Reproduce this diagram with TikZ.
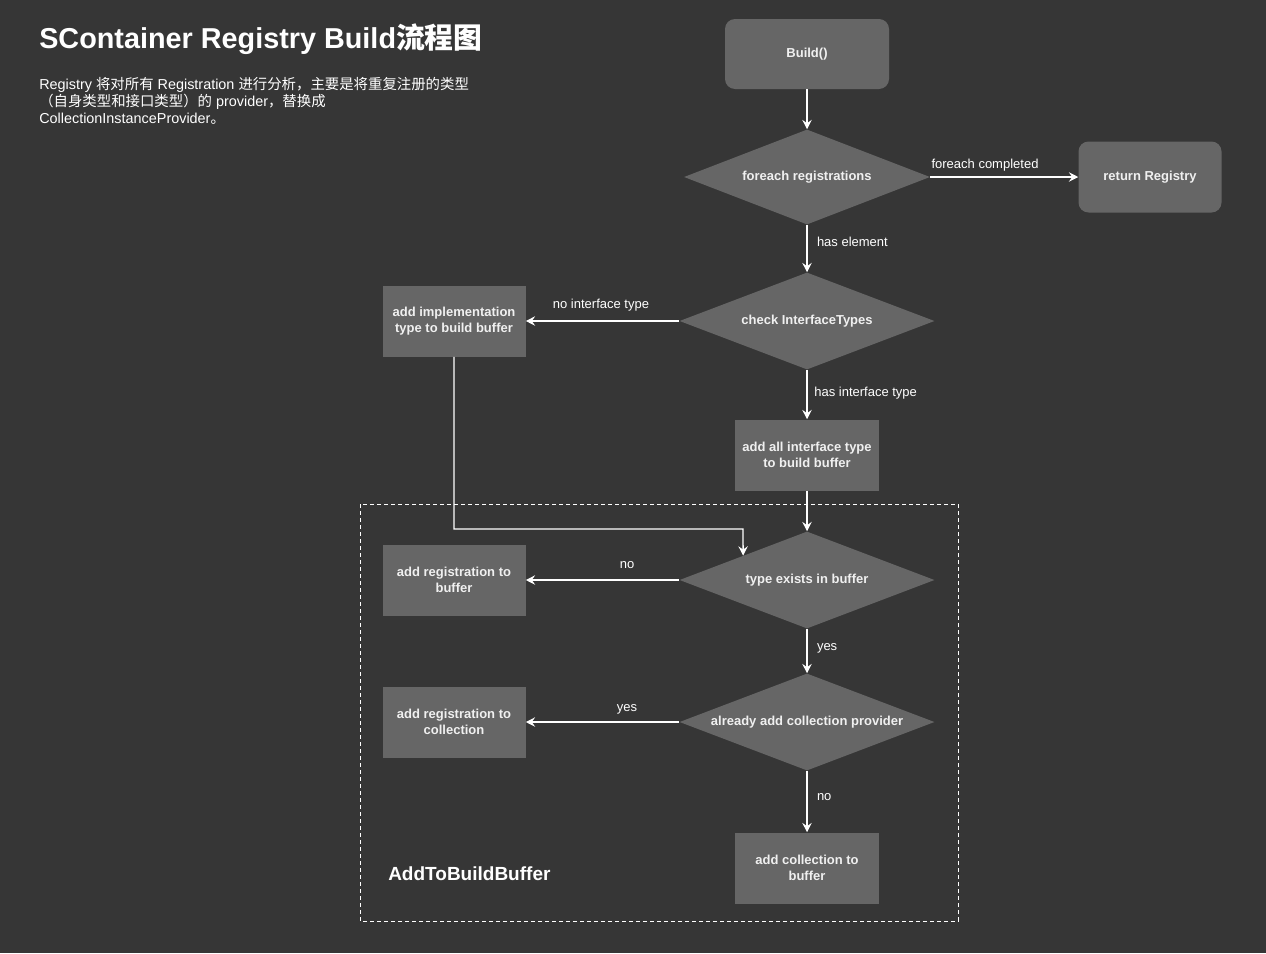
\documentclass[tikz,border=0pt]{standalone}
\usepackage{fontspec}
\setmainfont{Liberation Sans}
\newfontfamily\cjk{Noto Sans CJK SC}
\usetikzlibrary{arrows.meta,shapes.geometric}
\definecolor{bgdark}{HTML}{363636}
\definecolor{nodegray}{HTML}{666666}
\definecolor{inkwhite}{HTML}{F0F0F0}
\tikzset{
  termbox/.style={fill=nodegray, rounded corners=7.5pt, align=center, minimum width=123pt, minimum height=52.5pt, text=inkwhite, font=\fontsize{9.75}{12}\selectfont\bfseries},
  procbox/.style={fill=nodegray, align=center, minimum width=107.25pt, minimum height=53.25pt, text=inkwhite, font=\fontsize{9.75}{12}\selectfont\bfseries},
  decisionbox/.style={diamond, aspect=2.6, fill=nodegray, inner sep=0pt, minimum width=191.25pt, minimum height=72.75pt, align=center, text=inkwhite, font=\fontsize{9.75}{12}\selectfont\bfseries},
  arrow/.style={-{Stealth[length=7pt, width=7pt, inset=2.5pt]}, draw=white, line width=1pt},
  edgelabel/.style={font=\fontsize{9.75}{12}\selectfont, text=white, inner sep=1pt},
  group/.style={draw=white, dash pattern=on 3pt off 2.25pt, line width=0.75pt}
}

\begin{document}
\begin{tikzpicture}[x=0.75pt, y=-0.75pt]
  \fill[bgdark] (0,0) rectangle (1266,953);
  \useasboundingbox (0,0) rectangle (1266,953);

  % title and note
  \node[anchor=west, inner sep=0pt, text=white, font=\fontsize{21.6}{25}\selectfont\bfseries] (title) at (39,39) {SContainer Registry Build{\cjk 流程图}};
  \node[anchor=north west, inner sep=0pt, align=left, text=white, font=\fontsize{10.8}{12.75}\selectfont] (intro) at (39,77)
    {Registry {\cjk 将对所有} Registration {\cjk 进行分析，主要是将重复注册的类型}\\
     {\cjk （自身类型和接口类型）的} provider{\cjk ，替换成}\\
     CollectionInstanceProvider{\cjk 。}};

  % main flow
  \node[termbox] (build) at (807,54) {Build()};
  \node[decisionbox, minimum width=184.5pt, minimum height=71.25pt] (foreach) at (807,177) {foreach registrations};
  \node[termbox, minimum width=107.25pt, minimum height=53.25pt] (ret) at (1150,177) {return Registry};
  \node[decisionbox] (check) at (807,321) {check InterfaceTypes};
  \node[procbox] (implbuf) at (454,321) {add implementation\\type to build buffer};
  \node[procbox, minimum width=108pt] (ifacebuf) at (807,455) {add all interface type\\to build buffer};

  % AddToBuildBuffer group
  \draw[group] (360,504) rectangle (958,921);
  \node[decisionbox] (exists) at (807,580) {type exists in buffer};
  \node[procbox] (regbuf) at (454,580) {add registration to\\buffer};
  \node[decisionbox] (already) at (807,722) {already add collection provider};
  \node[procbox] (regcoll) at (454,722) {add registration to\\collection};
  \node[procbox, minimum width=108pt] (collbuf) at (807,868) {add collection to\\buffer};
  \node[anchor=west, inner sep=0pt, text=white, font=\fontsize{14.25}{17}\selectfont\bfseries] (grouplabel) at (388,874) {AddToBuildBuffer};

  % connectors
  \draw[arrow] (build) -- (foreach);
  \draw[arrow] (foreach) -- node[edgelabel, above=3pt, pos=0.37] {foreach completed} (ret);
  \draw[arrow] (foreach) -- node[edgelabel, right=6pt, pos=0.37] {has element} (check);
  \draw[arrow] (check) -- node[edgelabel, above=6pt, pos=0.51] {no interface type} (implbuf);
  \draw[arrow] (check) -- node[edgelabel, right=4pt, pos=0.47] {has interface type} (ifacebuf);
  \draw[arrow] (ifacebuf) -- (exists);
  \coordinate (join) at (743,529);
  \draw[arrow] (implbuf) |- (join) -- (exists.north west);
  \draw[arrow] (exists) -- node[edgelabel, above=7pt, pos=0.34] {no} (regbuf);
  \draw[arrow] (exists) -- node[edgelabel, right=6pt, pos=0.43] {yes} (already);
  \draw[arrow] (already) -- node[edgelabel, above=4pt, pos=0.34] {yes} (regcoll);
  \draw[arrow] (already) -- node[edgelabel, right=6pt, pos=0.43] {no} (collbuf);
\end{tikzpicture}
\end{document}
